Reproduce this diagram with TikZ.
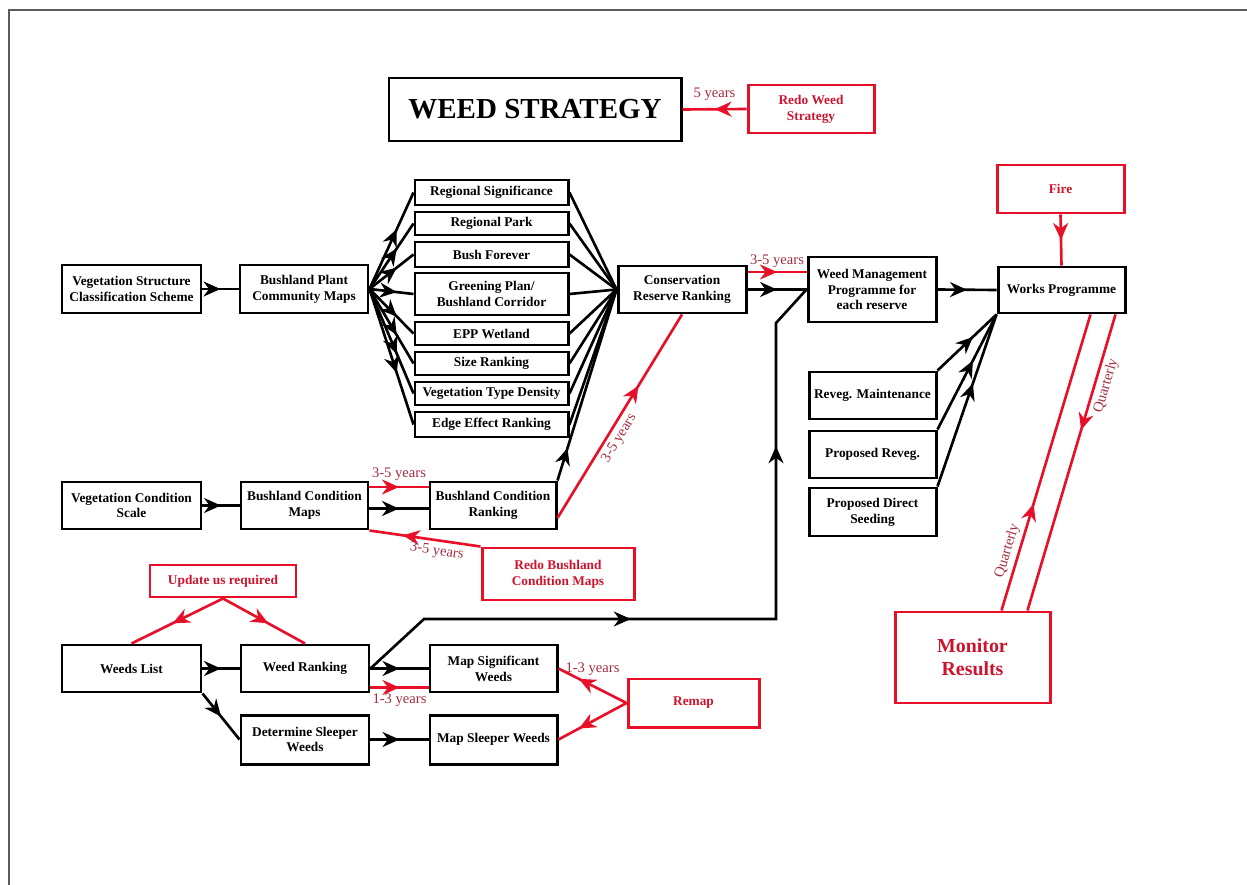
\documentclass[tikz,border=0pt]{standalone}
\usepackage{fontspec}
\setmainfont{Liberation Serif}
\usetikzlibrary{arrows.meta,decorations.markings,calc}
\definecolor{myred}{RGB}{232,16,40}
\definecolor{rtext}{RGB}{205,20,45}
\definecolor{lblc}{RGB}{165,45,65}
\definecolor{framec}{RGB}{90,90,90}
\newcommand{\mybox}[7]{\node[#1, minimum width={(#4-#2)*0.02cm}, minimum height={(#5-#3)*0.02cm}] (#6) at ({(#2+#4)/2},{(#3+#5)/2}) {#7};}
\tikzset{
  bx/.style={draw, line width=1.7pt, inner sep=0pt, align=center, font=\bfseries\fontsize{7.6}{9}\selectfont},
  rbx/.style={bx, draw=myred, text=rtext},
  conn/.style={line width=1.5pt},
  rconn/.style={conn, color=myred},
  midarr/.style={postaction={decorate, decoration={markings, mark=at position #1 with {\arrow{Stealth[length=3.4mm,width=3mm,inset=1.1mm]}}}}},
  midarr/.default=0.5,
  revarr/.style={postaction={decorate, decoration={markings, mark=at position #1 with {\arrowreversed{Stealth[length=3.4mm,width=3mm,inset=1.1mm]}}}}},
  twoarr/.style 2 args={postaction={decorate, decoration={markings, mark=at position #1 with {\arrow{Stealth[length=3.4mm,width=3mm,inset=1.1mm]}}, mark=at position #2 with {\arrow{Stealth[length=3.4mm,width=3mm,inset=1.1mm]}}}}},
  lbl/.style={font=\fontsize{8.3}{10}\selectfont, text=lblc, inner sep=2pt},
}
\begin{document}
\begin{tikzpicture}[x=0.02cm, y=-0.02cm]
\useasboundingbox (0,0) rectangle (1247,885);
\fill[white] (0,0) rectangle (1247,885);
\draw[framec, line width=1.2pt] (1247,10) -- (9,10) -- (9,885);

% nodes
\mybox{bx, font=\bfseries\fontsize{16.5}{18}\selectfont}{389}{78}{681}{141}{ws}{WEED STRATEGY}
\mybox{rbx}{748}{85}{874}{133}{rws}{Redo Weed\\Strategy}
\mybox{bx}{62}{265}{201}{313}{vscs}{Vegetation Structure\\Classification Scheme}
\mybox{bx}{240}{265}{368}{313}{bpcm}{Bushland Plant\\Community Maps}
\mybox{bx}{415}{180}{568}{205}{l1}{Regional Significance}
\mybox{bx}{415}{212}{568}{235}{l2}{Regional Park}
\mybox{bx}{415}{242}{568}{267}{l3}{Bush Forever}
\mybox{bx}{415}{273}{568}{315}{l4}{Greening Plan/\\Bushland Corridor}
\mybox{bx}{415}{322}{568}{345}{l5}{EPP Wetland}
\mybox{bx}{415}{352}{568}{375}{l6}{Size Ranking}
\mybox{bx}{415}{382}{568}{405}{l7}{Vegetation Type Density}
\mybox{bx}{415}{412}{568}{437}{l8}{Edge Effect Ranking}
\mybox{bx}{618}{266}{746}{313}{cons}{Conservation\\Reserve Ranking}
\mybox{bx}{808}{257}{936}{322}{wmp}{Weed Management\\Programme for\\each reserve}
\mybox{bx}{998}{267}{1125}{313}{works}{Works Programme}
\mybox{rbx}{997}{165}{1124}{213}{fire}{Fire}
\mybox{bx}{809}{372}{936}{419}{rm}{Reveg. Maintenance}
\mybox{bx}{809}{431}{936}{478}{pr}{Proposed Reveg.}
\mybox{bx}{809}{488}{936}{536}{pds}{Proposed Direct\\Seeding}
\mybox{bx}{62}{482}{201}{529}{vcs}{Vegetation Condition\\Scale}
\mybox{bx}{241}{482}{368}{529}{bcm}{Bushland Condition\\Maps}
\mybox{bx}{430}{482}{556}{529}{bcr}{Bushland Condition\\Ranking}
\mybox{rbx}{482}{548}{634}{600}{rbm}{Redo Bushland\\Condition Maps}
\mybox{rbx}{150}{565}{296}{597}{upd}{Update us required}
\mybox{bx}{62}{645}{201}{692}{wl}{Weeds List}
\mybox{bx}{241}{645}{369}{692}{wr}{Weed Ranking}
\mybox{bx}{430}{645}{557}{692}{ms}{Map Significant\\Weeds}
\mybox{bx}{241}{715}{369}{764}{det}{Determine Sleeper\\Weeds}
\mybox{bx}{430}{715}{557}{764}{msl}{Map Sleeper Weeds}
\mybox{rbx}{628}{679}{759}{727}{remap}{Remap}
\mybox{rbx, font=\bfseries\fontsize{11.3}{13}\selectfont}{895}{612}{1050}{703}{mon}{Monitor\\Results}

% connectors
\draw[rconn, midarr] (rws.west) -- (ws.east) node[lbl, midway, above=2pt] {5 years};
\draw[conn, midarr] (vscs.east) -- (bpcm.west);
\foreach \i in {1,...,8} {
  \draw[conn, midarr=0.62] (bpcm.east) -- (l\i.west);
  \draw[conn] (l\i.east) -- (cons.west);
}
\draw[conn, midarr=0.17] (bcr.north east) -- (cons.west);
\draw[rconn, midarr=0.65] ([yshift=-0.25cm]bcr.east) -- (cons.south) node[lbl, pos=0.42, sloped, below] {3-5 years};
\draw[rconn, midarr] ([yshift=0.35cm]cons.east) -- ([yshift=0.35cm]wmp.west) node[lbl, midway, above] {3-5 years};
\draw[conn, midarr] (cons.east) -- (wmp.west);
\draw[conn, midarr] (wmp.east) -- (works.west);
\draw[rconn, midarr] (fire.south) -- (works.north);
\foreach \n in {rm,pr,pds} {
  \draw[conn, midarr=0.6] (\n.north east) -- (works.south west);
}
\draw[rconn, midarr=0.36] ([xshift=2.16cm]mon.north west) -- ([xshift=1.88cm]works.south west) node[lbl, pos=0.19, sloped, above] {Quarterly};
\draw[rconn, revarr=0.61] ([xshift=2.68cm]mon.north west) -- ([xshift=2.38cm]works.south west) node[lbl, pos=0.77, sloped, below] {Quarterly};

\draw[conn, midarr] (vcs.east) -- (bcm.west);
\draw[rconn, midarr] ([yshift=0.37cm]bcm.east) -- ([yshift=0.37cm]bcr.west) node[lbl, midway, above=1pt] {3-5 years};
\draw[conn, midarr] ([yshift=-0.06cm]bcm.east) -- ([yshift=-0.06cm]bcr.west);
\draw[rconn, revarr=0.3] (bcm.south east) -- (rbm.north west) node[lbl, pos=0.62, sloped, below] {3-5 years};

\draw[rconn, midarr=0.55] (upd.south) -- (wl.north);
\draw[rconn, midarr=0.55] (upd.south) -- (wr.north);
\draw[conn, midarr] (wl.east) -- (wr.west);
\draw[conn, midarr] (wl.south east) -- (det.west);
\draw[conn, midarr] (wr.east) -- (ms.west);
\draw[rconn, midarr] ([yshift=-0.38cm]wr.east) -- ([yshift=-0.38cm]ms.west) node[lbl, midway, below=1pt] {1-3 years};
\draw[conn, midarr] (det.east) -- (msl.west);
\draw[rconn, midarr=0.7] (remap.west) -- (ms.east) node[lbl, midway, above=3pt] {1-3 years};
\draw[rconn, midarr=0.7] (remap.west) -- (msl.east);

\coordinate (k1) at (424,619);
\coordinate (k2) at (776,619);
\coordinate (k3) at (776,323);
\draw[conn, twoarr={0.365}{0.78}] (wr.east) -- (k1) -- (k2) -- (k3) -- (wmp.west);
\end{tikzpicture}
\end{document}
